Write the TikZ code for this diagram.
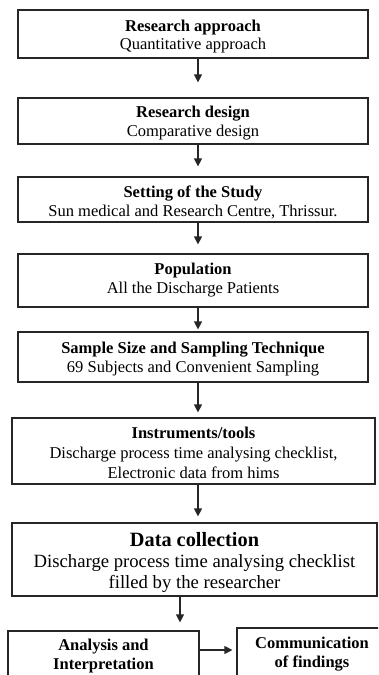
\documentclass[tikz,border=0pt]{standalone}
\usepackage{fontspec}
\setmainfont{Liberation Serif}
\usetikzlibrary{arrows.meta}
\tikzset{
  box/.style={draw=black!85, line width=1.2pt, rectangle, inner sep=0pt},
  ln/.style={anchor=base, inner sep=0pt, font=\fontsize{16.5}{19}\selectfont},
  hd/.style={anchor=base, inner sep=0pt, font=\fontsize{16.5}{19}\selectfont\bfseries},
  lnbig/.style={anchor=base, inner sep=0pt, font=\fontsize{18.7}{21}\selectfont},
  hdbig/.style={anchor=base, inner sep=0pt, font=\fontsize{20.3}{23}\selectfont\bfseries},
  arr/.style={draw=black!85, line width=1.2pt, -{Triangle[width=8pt,length=8pt]}},
}
\begin{document}
\begin{tikzpicture}[x=1pt,y=-1pt]
\clip (0,0) rectangle (378,675);
\fill[white] (0,0) rectangle (378,675);
% boxes
\node[box, minimum width=350pt, minimum height=48pt] (b1) at (193,34) {};
\node[box, minimum width=350pt, minimum height=46pt] (b2) at (193,121) {};
\node[box, minimum width=350pt, minimum height=45pt] (b3) at (193,199.5) {};
\node[box, minimum width=350pt, minimum height=53pt] (b4) at (193,280.5) {};
\node[box, minimum width=350pt, minimum height=50pt] (b5) at (193,357) {};
\node[box, minimum width=363pt, minimum height=66pt] (b6) at (193.5,451) {};
\node[box, minimum width=365pt, minimum height=73pt] (b7) at (194.5,559.5) {};
\node[box, minimum width=191pt, minimum height=79pt] (b8a) at (103.5,670.5) {};
\node[box, minimum width=153pt, minimum height=82pt] (b8b) at (313.5,669) {};
% texts
\node[hd] (t1a) at (193,31) {Research approach};
\node[ln] (t1b) at (193,49.5) {Quantitative approach};
\node[hd] (t2a) at (193,117) {Research design};
\node[ln] (t2b) at (193,136) {Comparative design};
\node[hd] (t3a) at (193,197) {Setting of the Study};
\node[ln] (t3b) at (193,216) {Sun medical and Research Centre, Thrissur.};
\node[hd] (t4a) at (193,274) {Population};
\node[ln] (t4b) at (193,293) {All the Discharge Patients};
\node[hd] (t5a) at (193,353) {Sample Size and Sampling Technique};
\node[ln] (t5b) at (193,372) {69 Subjects and Convenient Sampling};
\node[hd] (t6a) at (193.5,438) {Instruments/tools};
\node[ln] (t6b) at (193.5,458) {Discharge process time analysing checklist,};
\node[ln] (t6c) at (193.5,478) {Electronic data from hims};
\node[hdbig] (t7a) at (194.5,546) {Data collection};
\node[lnbig] (t7b) at (194.5,567) {Discharge process time analysing checklist};
\node[lnbig] (t7c) at (194.5,588) {filled by the researcher};
\node[hd] (t8a) at (103.5,650) {Analysis and};
\node[hd] (t8b) at (103.5,669) {Interpretation};
\node[hd] (t9a) at (312,648) {Communication};
\node[hd] (t9b) at (312,667) {of findings};
% connectors
\coordinate (ax) at (198,0);
\coordinate (ax7) at (180,0);
\coordinate (hy) at (0,650);
\draw[arr, shorten >=15pt] (b1.south -| ax) -- (b2.north -| ax);
\draw[arr, shorten >=10pt] (b2.south -| ax) -- (b3.north -| ax);
\draw[arr, shorten >=9pt] (b3.south -| ax) -- (b4.north -| ax);
\draw[arr, shorten >=2pt] (b4.south -| ax) -- (b5.north -| ax);
\draw[arr, shorten >=5pt] (b5.south -| ax) -- (b6.north -| ax);
\draw[arr, shorten >=6pt] (b6.south -| ax) -- (b7.north -| ax);
\draw[arr, shorten >=8pt] (b7.south -| ax7) -- (b8a.north -| ax7);
\draw[arr, shorten >=4pt] (b8a.east |- hy) -- (b8b.west |- hy);
\end{tikzpicture}
\end{document}
